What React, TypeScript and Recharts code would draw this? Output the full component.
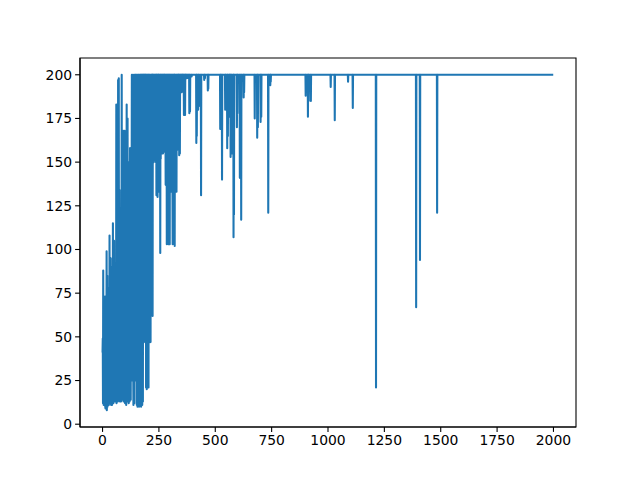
import { LineChart, Line, XAxis, YAxis, ReferenceArea } from 'recharts';

// rewards for the first 400 episodes in rows of 20
const earlyRewards: number[] = [
    41, 49, 12, 88, 15, 11, 60, 22, 12, 35, 14, 73, 10, 9, 28, 65, 12, 20, 99, 8,
    14, 85, 10, 33, 70, 12, 78, 18, 11, 54, 13, 108, 12, 40, 16, 27, 95, 15, 11, 62,
    19, 90, 11, 24, 58, 13, 115, 17, 12, 80, 14, 105, 15, 44, 13, 30, 75, 18, 14, 50,
    16, 183, 12, 21, 150, 14, 95, 20, 13, 197, 15, 120, 198, 22, 14, 134, 18, 13, 60, 16,
    25, 110, 13, 19, 70, 200, 15, 140, 24, 14, 88, 17, 168, 13, 45, 160, 19, 14, 168, 22,
    12, 160, 18, 30, 166, 11, 50, 183, 15, 140, 13, 175, 21, 90, 14, 145, 12, 60, 150, 16,
    13, 120, 158, 19, 80, 14, 155, 26, 30, 130, 200, 28, 25, 160, 27, 200, 35, 11, 190, 14,
    200, 12, 170, 26, 200, 25, 140, 200, 27, 185, 25, 200, 11, 120, 200, 10, 175, 12, 200, 11,
    150, 200, 10, 95, 200, 12, 180, 11, 200, 60, 200, 10, 140, 200, 12, 200, 11, 165, 200, 13,
    200, 48, 200, 130, 47, 200, 90, 200, 49, 170, 200, 52, 200, 21, 200, 110, 20, 200, 22, 185,
    200, 23, 200, 150, 21, 200, 48, 200, 120, 47, 200, 55, 180, 47, 200, 62, 200, 100, 63, 200,
    65, 200, 62, 200, 152, 200, 175, 150, 200, 162, 200, 151, 190, 200, 155, 200, 170, 150, 200, 131,
    200, 131, 200, 178, 130, 200, 152, 200, 133, 200, 150, 200, 160, 151, 200, 190, 98, 200, 152, 200,
    156, 200, 170, 155, 200, 158, 200, 180, 155, 200, 160, 200, 156, 190, 200, 157, 200, 168, 200, 170,
    137, 200, 160, 138, 200, 103, 200, 150, 104, 200, 130, 200, 103, 180, 200, 105, 200, 140, 103, 200,
    133, 200, 170, 134, 200, 160, 133, 200, 180, 200, 140, 103, 200, 150, 104, 200, 120, 200, 103, 200,
    102, 200, 160, 133, 200, 175, 134, 200, 133, 190, 200, 157, 200, 180, 158, 200, 170, 200, 157, 200,
    154, 200, 180, 155, 200, 190, 200, 195, 191, 200, 200, 190, 200, 196, 200, 191, 200, 200, 192, 200,
    200, 177, 200, 185, 178, 200, 177, 200, 198, 200, 200, 199, 200, 200, 198, 200, 200, 200, 199, 200,
    200, 200, 198, 200, 200, 178, 200, 185, 179, 200, 200, 200, 200, 200, 200, 199, 200, 200, 200, 200,
];

// later episodes sit at the 200 cap except for these dips [episode, reward]
const laterDips: [number, number][] = [
    [416, 161], [418, 165], [424, 180], [427, 182], [437, 131], [451, 197], [454, 198],
    [467, 191], [469, 192], [522, 169], [525, 172], [530, 140], [544, 180], [546, 185],
    [553, 158], [556, 165], [563, 176], [565, 178], [568, 153], [573, 155], [581, 107],
    [583, 120], [596, 170], [598, 178], [609, 141], [615, 117], [626, 187], [628, 190],
    [675, 175], [686, 164], [689, 170], [701, 173], [704, 176], [735, 121], [744, 194],
    [746, 196], [901, 188], [911, 176], [914, 185], [924, 185], [1012, 193], [1030, 174],
    [1089, 196], [1110, 181], [1213, 21], [1391, 67], [1408, 94], [1484, 121],
];

const episodeCount = 2000;
const capReward = 200;

const xTicks = [0, 250, 500, 750, 1000, 1250, 1500, 1750, 2000];
const yTicks = [0, 25, 50, 75, 100, 125, 150, 175, 200];

const dipMap = new Map(laterDips);
const data = Array.from({ length: episodeCount }, (_, ep) => ({
    ep,
    reward: ep < earlyRewards.length ? earlyRewards[ep] : dipMap.get(ep) ?? capReward,
}));

const tickStyle = { fill: '#000', fontSize: 13.9, fontFamily: 'DejaVu Sans' };

export default function App() {
    return (
        <div style={{ position: 'absolute', left: 0, top: 0, width: 640, height: 480, background: '#fff' }}>
            <LineChart width={640} height={480} data={data} margin={{ top: 58, right: 64, bottom: 23, left: 0 }}>
                <XAxis
                    dataKey="ep"
                    type="number"
                    domain={[-100, 2100]}
                    ticks={xTicks}
                    height={30}
                    tick={tickStyle}
                    tickSize={4.9}
                    tickMargin={3}
                    stroke="#000"
                    axisLine={{ stroke: '#000', strokeWidth: 1.1 }}
                    tickLine={{ stroke: '#000', strokeWidth: 1.1 }}
                />
                <YAxis
                    type="number"
                    domain={[-1.6, 209.6]}
                    ticks={yTicks}
                    width={80}
                    tick={tickStyle}
                    tickSize={4.9}
                    tickMargin={3}
                    stroke="#000"
                    axisLine={{ stroke: '#000', strokeWidth: 1.1 }}
                    tickLine={{ stroke: '#000', strokeWidth: 1.1 }}
                />
                <ReferenceArea x1={-100} x2={2100} y1={-1.6} y2={209.6} fill="none" stroke="#000" strokeWidth={1.1} />
                <Line
                    dataKey="reward"
                    type="linear"
                    stroke="#1f77b4"
                    strokeWidth={2.08}
                    strokeLinejoin="round"
                    dot={false}
                    isAnimationActive={false}
                />
            </LineChart>
        </div>
    );
}
